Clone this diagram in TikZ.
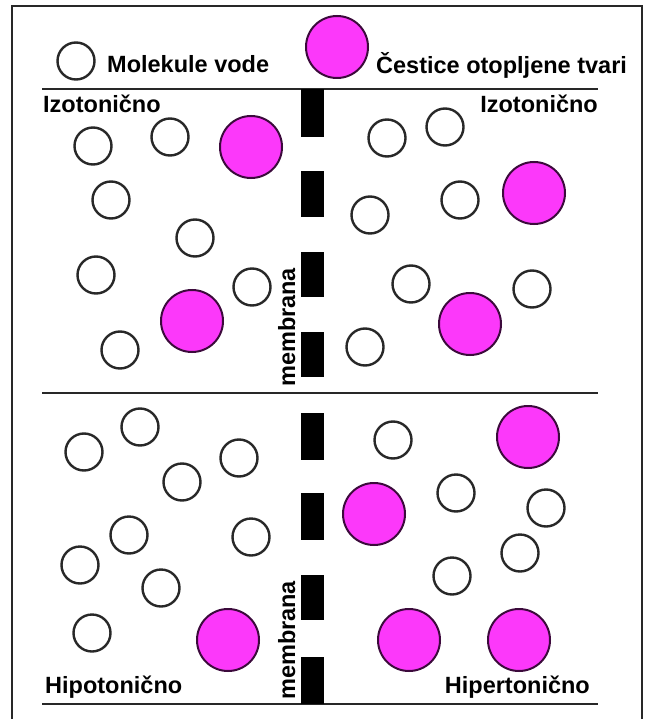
\documentclass[tikz,border=0pt]{standalone}
\usepackage{fontspec}
\newfontfamily\lblfont{Liberation Sans}
\definecolor{solute}{RGB}{252,56,250}
\definecolor{soluteedge}{RGB}{60,10,60}
\definecolor{ink}{RGB}{40,40,40}
\begin{document}
\begin{tikzpicture}[x=1pt,y=-1pt,
  water/.style={circle,draw=ink,line width=2.4pt,fill=white,minimum size=37pt,inner sep=0pt},
  solute/.style={circle,draw=soluteedge,line width=2pt,fill=solute,minimum size=62pt,inner sep=0pt},
  pore/.style={fill=black,draw=none},
  divider/.style={draw=ink,line width=2.2pt},
  label/.style={font=\lblfont\bfseries\fontsize{23.5}{28}\selectfont,inner sep=0pt,anchor=base west},
  wall/.style={draw=ink,line width=2.6pt}]
\useasboundingbox (0,0) rectangle (648,719);
\fill[white] (0,0) rectangle (648,719);
% outer frame (open at the bottom)
\draw[wall] (12,721) -- (12,6) -- (642,6) -- (642,721);

% legend
\node[water] (legw) at (76,61) {};
\node[label] (legwt) at (107,73) {Molekule vode};
\node[solute] (legs) at (337,47) {};
\node[label] (legst) at (376,74) {Čestice otopljene tvari};

% dividing lines
\coordinate (l1a) at (42,89);  \coordinate (l1b) at (598,89);
\coordinate (l2a) at (42,393); \coordinate (l2b) at (598,393);
\coordinate (l3a) at (42,704); \coordinate (l3b) at (598,704);
\draw[divider] (l1a) -- (l1b);
\draw[divider] (l2a) -- (l2b);
\draw[divider] (l3a) -- (l3b);

% membrane pores
\foreach \y/\h in {89/137,171/217,252/297,332/377,413/460,493/540,575/620,657/704}
  \fill[pore] (301,\y) rectangle (324,\h);
\node[label,rotate=90] (mem1) at (295,387) {membrana};
\node[label,rotate=90] (mem2) at (295,700) {membrana};

% section labels
\node[label] (iso1) at (43,113) {Izotonično};
\node[label,anchor=base east] (iso2) at (598,113) {Izotonično};
\node[label] (hypo) at (45,693) {Hipotonično};
\node[label,anchor=base east] (hyper) at (590,693) {Hipertonično};

% isotonic, left
\node[water] (a1) at (93,146) {};
\node[water] (a2) at (170,137) {};
\node[solute] (a3) at (251,147) {};
\node[water] (a4) at (111,200) {};
\node[water] (a5) at (195,238) {};
\node[water] (a6) at (96,275) {};
\node[water] (a7) at (252,287) {};
\node[solute] (a8) at (192,321) {};
\node[water] (a9) at (120,350) {};

% isotonic, right
\node[water] (b1) at (387,138) {};
\node[water] (b2) at (445,127) {};
\node[solute] (b3) at (534,193) {};
\node[water] (b4) at (460,200) {};
\node[water] (b5) at (370,215) {};
\node[water] (b6) at (411,284) {};
\node[water] (b7) at (532,289) {};
\node[solute] (b8) at (470,324) {};
\node[water] (b9) at (365,347) {};

% hypotonic side
\node[water] (c1) at (84,452) {};
\node[water] (c2) at (140,427) {};
\node[water] (c3) at (182,482) {};
\node[water] (c4) at (239,458) {};
\node[water] (c5) at (129,535) {};
\node[water] (c6) at (251,537) {};
\node[water] (c7) at (80,565) {};
\node[water] (c8) at (161,588) {};
\node[water] (c9) at (92,633) {};
\node[solute] (c10) at (228,640) {};

% hypertonic side
\node[water] (d1) at (393,440) {};
\node[solute] (d2) at (528,437) {};
\node[solute] (d3) at (374,514) {};
\node[water] (d4) at (456,493) {};
\node[water] (d5) at (546,508) {};
\node[water] (d6) at (520,553) {};
\node[water] (d7) at (452,576) {};
\node[solute] (d8) at (409,640) {};
\node[solute] (d9) at (519,640) {};
\end{tikzpicture}
\end{document}
